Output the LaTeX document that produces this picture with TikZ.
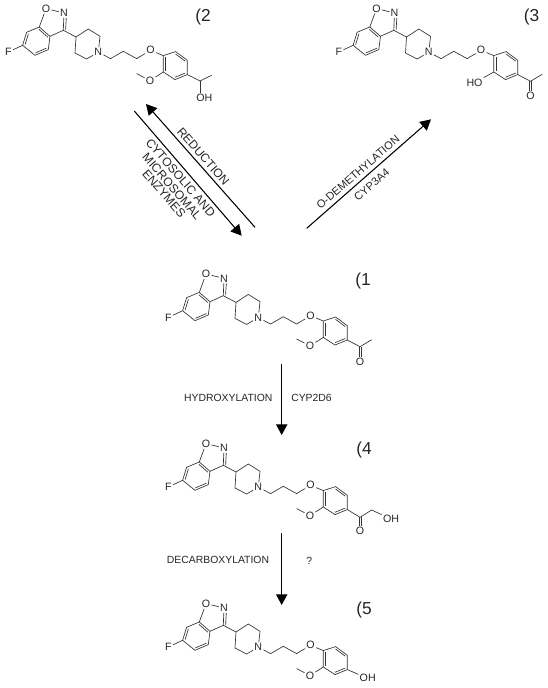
\documentclass[tikz,border=0pt]{standalone}
\usepackage{fontspec}
\setmainfont{Liberation Sans}
\usetikzlibrary{arrows.meta, calc}
\tikzset{
  atom/.style={inner sep=0.8pt, font=\fontsize{8}{8}\selectfont, text=black!85},
  bond/.style={draw=black!80, line width=0.5pt},
  react/.style={draw=black, line width=0.8pt, -{Triangle[length=8pt,width=8.5pt]}},
  caption/.style={inner sep=0pt, font=\fontsize{7.8}{8}\selectfont, text=black!85},
  leftcaption/.style={caption, rotate=-49, font=\fontsize{9.1}{9}\selectfont},
  rightcaption/.style={caption, rotate=41, font=\fontsize{8.3}{9}\selectfont},
  molnum/.style={inner sep=0pt, font=\fontsize{13}{13}\selectfont, text=black!85},
  pics/core/.style={code={
    % fused benzisoxazole
    \node[atom] (f) at (-90,-0.3) {F};
    \node[atom] (o) at (-52.3,-43.7) {O};
    \node[atom] (n) at (-34.3,-39.3) {N};
    \coordinate (a6) at (-75.7,-7);
    \coordinate (a7) at (-71.7,-20);
    \coordinate (a7a) at (-59,-25.3);
    \coordinate (a3a) at (-48.3,-16);
    \coordinate (a4) at (-50,-2.7);
    \coordinate (a5) at (-63.3,3);
    \coordinate (c3) at (-35,-22);
    \coordinate (acen) at (-61,-11);
    \draw[bond] (f) -- (a6) -- (a7) -- (a7a) -- (a3a) -- (a4) -- (a5) -- (a6);
    \draw[bond] (a7a) -- (o) -- (n);
    \draw[bond] (a3a) -- (c3) -- (n);
    \draw[bond] ($(c3)+(2.3,-0.5)$) -- ($(n.south)+(2.3,0)$);
    \draw[bond] ($(a3a)!.17!(acen)$) -- ($(a7a)!.17!(acen)$);
    \draw[bond] ($(a4)!.17!(acen)$) -- ($(a5)!.17!(acen)$);
    \draw[bond] ($(a6)!.17!(acen)$) -- ($(a7)!.17!(acen)$);
    % piperidine and chain
    \node[atom] (pn) at (0,0) {N};
    \coordinate (p4) at (-22.3,-15.3);
    \coordinate (p3) at (-10,-23.3);
    \coordinate (p2) at (1.7,-16);
    \coordinate (p6) at (-11.7,6.7);
    \coordinate (p5) at (-23.3,0.7);
    \draw[bond] (c3) -- (p4) -- (p3) -- (p2) -- (pn) -- (p6) -- (p5) -- (p4);
    \node[atom] (oe) at (52.3,-2) {O};
    \coordinate (ch1) at (12.3,6.3);
    \coordinate (ch2) at (25,-1);
    \coordinate (ch3) at (38.3,6.3);
    \draw[bond] (pn) -- (ch1) -- (ch2) -- (ch3) -- (oe);
    % aryl ring
    \coordinate (r1) at (65,3.3);
    \coordinate (r2) at (77.3,-0.7);
    \coordinate (r3) at (89,8);
    \coordinate (r4) at (89,22.3);
    \coordinate (r5) at (76.7,27.3);
    \coordinate (r6) at (65,19.7);
    \coordinate (rcen) at (77,13.3);
    \draw[bond] (oe) -- (r1) -- (r2) -- (r3) -- (r4) -- (r5) -- (r6) -- (r1);
    \draw[bond] ($(r2)!.17!(rcen)$) -- ($(r3)!.17!(rcen)$);
    \draw[bond] ($(r4)!.17!(rcen)$) -- ($(r5)!.17!(rcen)$);
    \draw[bond] ($(r6)!.17!(rcen)$) -- ($(r1)!.17!(rcen)$);
  }},
  pics/methoxy/.style={code={
    \node[atom] (om) at (51.7,28.3) {O};
    \coordinate (me) at (38.3,21.3);
    \draw[bond] (r6) -- (om) -- (me);
  }},
  pics/acetyl/.style={code={
    \coordinate (ac) at (101.7,29);
    \coordinate (acme) at (113.4,22);
    \node[atom] (aco) at (101.7,44) {O};
    \draw[bond] (r4) -- (ac) -- (acme);
    \draw[bond] ($(ac)+(-1.1,0)$) -- ($(aco.north)+(-1.1,0)$);
    \draw[bond] ($(ac)+(1.1,0)$) -- ($(aco.north)+(1.1,0)$);
  }},
}

\begin{document}
\begin{tikzpicture}[x=0.75pt, y=-0.75pt]
  \useasboundingbox (0,0) rectangle (547,688);
  % the five molecules
  \foreach \mol/\x/\y in {mtwo/98.3/52.3, mthree/428.8/52.3, mone/258.3/317.7, mfour/258.3/487.3, mfive/258.3/647.3} {
    \pic (\mol-) at (\x,\y) {core};
  }
  \foreach \mol/\x/\y in {mtwo/98.3/52.3, mone/258.3/317.7, mfour/258.3/487.3, mfive/258.3/647.3} {
    \pic (\mol-) at (\x,\y) {methoxy};
  }
  \pic (mone-) at (258.3,317.7) {acetyl};
  \pic (mthree-) at (428.8,52.3) {acetyl};
  % molecule 2: secondary alcohol
  \coordinate (mtwo-cs) at (200,81);
  \coordinate (mtwo-csme) at (211.7,75.3);
  \node[atom] (mtwo-oh) at (204.3,98.3) {OH};
  \draw[bond] (mtwo-r4) -- (mtwo-cs) -- (mtwo-csme);
  \draw[bond] (mtwo-cs) -- (mtwo-cs |- mtwo-oh.north);
  % molecule 3: free phenol
  \node[atom] (mthree-ho) at (474.5,82.7) {HO};
  \draw[bond] (mthree-r6) -- (mthree-ho);
  % molecule 4: hydroxyketone
  \coordinate (mfour-kc) at (360,517.3);
  \coordinate (mfour-ch) at (371.7,510);
  \node[atom] (mfour-koh) at (391,519) {OH};
  \node[atom] (mfour-ko) at (360,530.7) {O};
  \draw[bond] (mfour-r4) -- (mfour-kc) -- (mfour-ch) -- (mfour-koh);
  \draw[bond] ($(mfour-kc)+(-1.1,0)$) -- ($(mfour-ko.north)+(-1.1,0)$);
  \draw[bond] ($(mfour-kc)+(1.1,0)$) -- ($(mfour-ko.north)+(1.1,0)$);
  % molecule 5: phenol
  \node[atom] (mfive-oh) at (367.7,678.3) {OH};
  \draw[bond] (mfive-r4) -- (mfive-oh);
  % compound numbers
  \node[molnum] (numtwo) at (203,17) {(2};
  \node[molnum] (numthree) at (531.5,17) {(3};
  \node[molnum] (numone) at (363,281) {(1};
  \node[molnum] (numfour) at (364,450) {(4};
  \node[molnum] (numfive) at (364,610) {(5};
  % reaction arrows
  \coordinate (fwdA) at (134.3,111);
  \coordinate (fwdB) at (241.7,235.7);
  \coordinate (revA) at (255,227.3);
  \coordinate (revB) at (146,104);
  \coordinate (demA) at (306.7,228.3);
  \coordinate (demB) at (431,119.3);
  \coordinate (hydA) at (281.7,364);
  \coordinate (hydB) at (281.7,435);
  \coordinate (decA) at (281.7,533.3);
  \coordinate (decB) at (281.7,605);
  \foreach \from/\to in {fwdA/fwdB, revA/revB, demA/demB, hydA/hydB, decA/decB} {
    \draw[react] (\from) -- (\to);
  }
  % arrow captions
  \node[leftcaption] (redlabel) at (203.3,156.5) {REDUCTION};
  \node[leftcaption] (cytlabel) at (180.7,177.7) {CYTOSOLIC AND};
  \node[leftcaption] (miclabel) at (172,186.3) {MICROSOMAL};
  \node[leftcaption] (enzlabel) at (164,193.5) {ENZYMES};
  \node[rightcaption] (demlabel) at (358,172.3) {O-DEMETHYLATION};
  \node[rightcaption] (cyplabel) at (371.7,184.7) {CYP3A4};
  \node[caption] (hydlabel) at (228.3,398.3) {HYDROXYLATION};
  \node[caption] (cydlabel) at (311.5,398.3) {CYP2D6};
  \node[caption] (declabel) at (218,560) {DECARBOXYLATION};
  \node[caption] (qlabel) at (309.3,561) {?};
\end{tikzpicture}
\end{document}
